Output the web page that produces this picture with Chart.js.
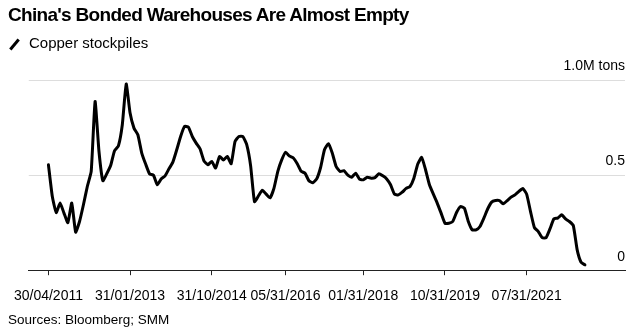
<!DOCTYPE html>
<html>
<head>
<meta charset="utf-8">
<script src="https://cdn.jsdelivr.net/npm/chart.js@4.4.1/dist/chart.umd.min.js"></script>
<style>
  html, body { margin: 0; padding: 0; background: #fff; }
  #wrap { position: relative; width: 633px; height: 332px; font-family: 'Liberation Sans', Arial, sans-serif; color: #000; }
  #chart { position: absolute; left: 0; top: 0; }
  .title { position: absolute; left: 8px; top: 5px; font-size: 19px; line-height: 19px; font-weight: bold; letter-spacing: -0.7px; white-space: nowrap; }
  .legend { position: absolute; left: 29px; top: 35px; font-size: 15px; line-height: 15px; white-space: nowrap; }
  .legend-key { position: absolute; left: 12.5px; top: 37.5px; width: 3px; height: 13px; background: #000; transform: rotate(40deg); }
  .source { position: absolute; left: 8px; top: 313px; font-size: 13.5px; line-height: 14px; white-space: nowrap; }
</style>
</head>
<body>
<div id="wrap">
  <canvas id="chart" width="633" height="332"></canvas>
  <div class="title">China's Bonded Warehouses Are Almost Empty</div>
  <div class="legend-key"></div>
  <div class="legend">Copper stockpiles</div>
  <div class="source">Sources: Bloomberg; SMM</div>
</div>
<script>
// monthly copper stockpiles in bonded warehouses, million tons, from Apr 2011
const stockpiles = [
  0.554, 0.387, 0.303, 0.353, 0.30, 0.25, 0.353, 0.20, 0.256, 0.344, 0.44, 0.519,
  0.887, 0.624, 0.47, 0.507, 0.55, 0.628, 0.654, 0.765, 0.979, 0.826, 0.747, 0.712,
  0.616, 0.558, 0.507, 0.50, 0.449, 0.48, 0.496, 0.533, 0.568, 0.633, 0.703, 0.756,
  0.752, 0.703, 0.668, 0.638, 0.575, 0.554, 0.572, 0.537, 0.598, 0.58, 0.598, 0.56,
  0.677, 0.703, 0.703, 0.66, 0.55, 0.36, 0.39, 0.42, 0.40, 0.38, 0.43, 0.52,
  0.58, 0.62, 0.60, 0.59, 0.56, 0.52, 0.51, 0.47, 0.46, 0.48, 0.54, 0.633,
  0.665, 0.616, 0.545, 0.519, 0.523, 0.50, 0.489, 0.51, 0.479, 0.475, 0.489, 0.484,
  0.487, 0.507, 0.496, 0.48, 0.449, 0.40, 0.396, 0.41, 0.43, 0.44, 0.484, 0.558,
  0.593, 0.528, 0.449, 0.40, 0.353, 0.30, 0.247, 0.247, 0.256, 0.305, 0.335, 0.326,
  0.256, 0.212, 0.212, 0.23, 0.274, 0.323, 0.358, 0.366, 0.366, 0.349, 0.366, 0.384,
  0.396, 0.414, 0.43, 0.40, 0.308, 0.224, 0.203, 0.171, 0.171, 0.217, 0.27, 0.274,
  0.291, 0.27, 0.256, 0.235, 0.107, 0.042, 0.028
]

// x ticks: month index (0 = Apr 2011) and the label shown there
const xTickMonths = [0, 21, 42, 61, 81, 102, 123]
const xTickLabels = ['30/04/2011', '31/01/2013', '31/10/2014', '05/31/2016', '01/31/2018', '10/31/2019', '07/31/2021']

const yTicks = [0, 0.5, 1]
const yTickLabels = ['0', '0.5', '1.0M tons']

const font = "'Liberation Sans', Arial, sans-serif"

new Chart(document.getElementById('chart'), {
  type: 'line',
  data: {
    datasets: [
      {
        label: 'Copper stockpiles',
        data: stockpiles.map((v, i) => ({ x: i, y: v })),
        borderColor: '#000',
        borderWidth: 3,
        pointRadius: 0,
        tension: 0.15,
        borderJoinStyle: 'round',
        borderCapStyle: 'round'
      }
    ]
  },
  options: {
    responsive: false,
    animation: false,
    layout: { padding: { left: 28, right: 8, top: 80, bottom: 14 } },
    plugins: {
      legend: { display: false },
      tooltip: { enabled: false }
    },
    scales: {
      x: {
        type: 'linear',
        min: -5.06,
        max: 148.3,
        afterBuildTicks: (scale) => {
          scale.ticks = xTickMonths.map(v => ({ value: v }))
        },
        grid: { display: true, drawOnChartArea: false, drawTicks: true, tickLength: 5, color: '#222' },
        border: { display: true, color: '#222', width: 1 },
        ticks: {
          autoSkip: false,
          maxRotation: 0,
          padding: 13,
          color: '#000',
          font: { family: font, size: 14 },
          callback: (v) => xTickLabels[xTickMonths.indexOf(v)]
        }
      },
      y: {
        position: 'right',
        min: 0,
        max: 1,
        afterBuildTicks: (scale) => {
          scale.ticks = yTicks.map(v => ({ value: v }))
        },
        grid: {
          drawTicks: false,
          color: (ctx) => ctx.tick && ctx.tick.value === 0 ? 'rgba(0,0,0,0)' : '#dddddd'
        },
        border: { display: false },
        ticks: {
          mirror: true,
          padding: 0,
          labelOffset: -13.5,
          color: '#000',
          font: { family: font, size: 14 },
          callback: (v) => yTickLabels[yTicks.indexOf(v)]
        }
      }
    }
  }
})
</script>
</body>
</html>
